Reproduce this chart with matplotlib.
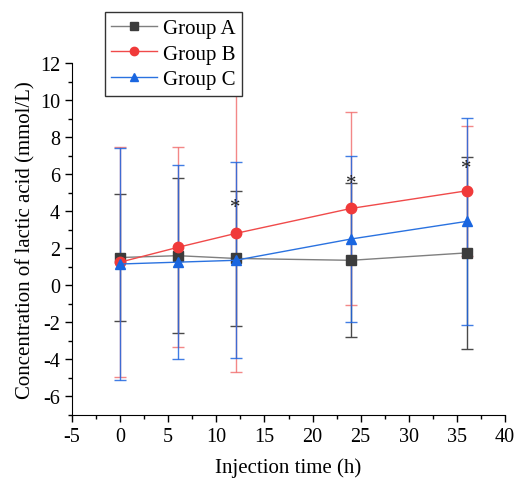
import matplotlib
matplotlib.use("Agg")
import matplotlib.pyplot as plt
from matplotlib.ticker import MultipleLocator

plt.rcParams['font.family'] = ['Liberation Serif', 'DejaVu Serif']
plt.rcParams['axes.unicode_minus'] = False

time_h = [0, 6, 12, 24, 36]
group_a = [1.50, 1.60, 1.45, 1.35, 1.75]
group_a_err = [3.45, 4.20, 3.65, 4.15, 5.20]
group_b = [1.25, 2.05, 2.80, 4.15, 5.10]
group_b_err = [6.20, 5.40, 7.50, 5.20, 3.50]
group_c = [1.15, 1.25, 1.35, 2.50, 3.45]
group_c_err = [6.25, 5.25, 5.30, 4.50, 5.60]
star_x = [12, 24, 36]
star_y = [4.2, 5.5, 6.3]

fig = plt.figure(figsize=(5.2, 4.85), dpi=100)
ax = fig.add_axes([72/520, 1-416/485, (505-72)/520, (416-64)/485])

series = [
    ("Group A", group_a, group_a_err, '#7f7f7f', '#3c3c3c', 's', '#4a4a4a', 1.0),
    ("Group B", group_b, group_b_err, '#f04a4a', '#f03a3a', 'o', '#f06060', 0.75),
    ("Group C", group_c, group_c_err, '#2a72e0', '#1a66e0', '^', '#1f66e0', 0.85),
]
handles = []
for name, vals, err, lc, mc, mk, ec, ea in series:
    ax.errorbar(time_h, vals, yerr=err, fmt='none', ecolor=ec, elinewidth=1.0,
                capsize=4, capthick=1.0, alpha=ea, zorder=2)
for name, vals, err, lc, mc, mk, ec, ea in series:
    h, = ax.plot(time_h, vals, color=lc, lw=1.0, marker=mk, markersize=7.5,
                 markerfacecolor=mc, markeredgecolor=mc, label=name, zorder=3)
    handles.append(h)

for sx, sy in zip(star_x, star_y):
    ax.text(sx, sy, '*', ha='center', va='center', fontsize=15, color='#222222', zorder=4)

ax.set_xlim(-5, 40)
ax.set_ylim(-7, 12)
ax.xaxis.set_major_locator(MultipleLocator(5))
ax.xaxis.set_minor_locator(MultipleLocator(2.5))
ax.yaxis.set_minor_locator(MultipleLocator(1))
ax.set_yticks([-6, -4, -2, 0, 2, 4, 6, 8, 10, 12])
ax.spines['top'].set_visible(False)
ax.spines['right'].set_visible(False)
ax.tick_params(which='major', direction='out', length=5, width=1, labelsize=14.5)
ax.tick_params(which='minor', direction='out', length=3, width=1)
ax.set_xlabel('Injection time (h)', fontsize=15, labelpad=8)
ax.set_ylabel('Concentration of lactic acid (mmol/L)', fontsize=15, labelpad=3)

leg = fig.legend(handles=handles, loc='upper left', bbox_to_anchor=(105/520, 1-13/485),
                 fontsize=15, frameon=True, fancybox=False, edgecolor='#333333',
                 framealpha=1, handlelength=2.2, borderpad=0.3, labelspacing=0.3,
                 handletextpad=0.3, borderaxespad=0, markerscale=0.8)
leg.get_frame().set_linewidth(1.0)
leg.set_zorder(10)

fig.savefig('out.png', dpi=100)
